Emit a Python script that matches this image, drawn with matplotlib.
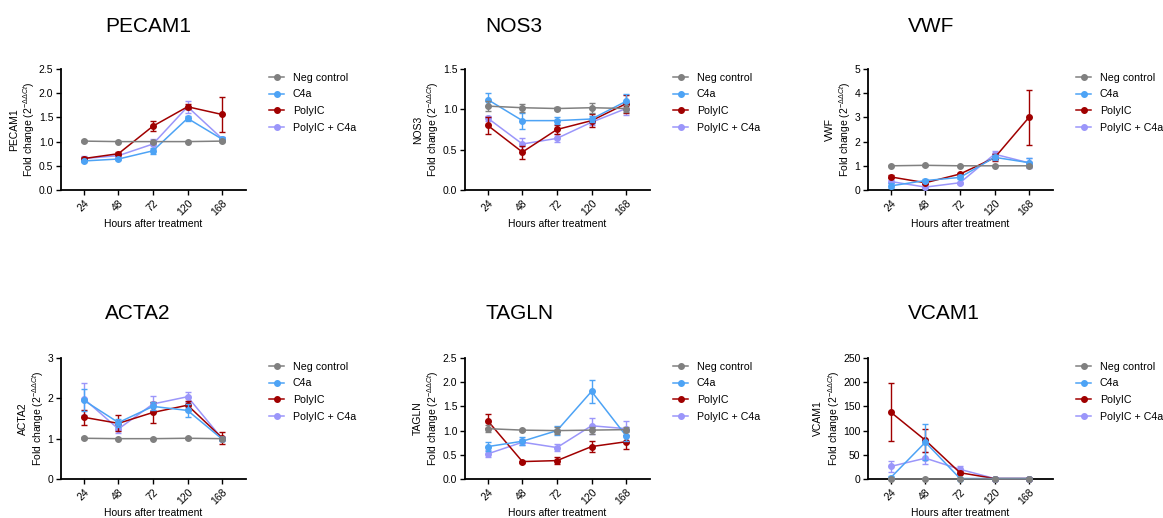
import numpy as np
import matplotlib
matplotlib.use("Agg")
import matplotlib.pyplot as plt

plt.rcParams['font.family'] = ['Liberation Sans', 'DejaVu Sans']
plt.rcParams['mathtext.fontset'] = 'custom'
plt.rcParams['mathtext.rm'] = 'Liberation Sans'
plt.rcParams['mathtext.it'] = 'Liberation Sans:italic'

hours = ['24', '48', '72', '120', '168']
groups = ['Neg control', 'C4a', 'PolyIC', 'PolyIC + C4a']
colors = ['#808080', '#4da3f5', '#a00000', '#9b96fa']

# mean values per gene, one list per group
pecam1 = [[1.01, 1.00, 1.00, 1.00, 1.01],
          [0.60, 0.64, 0.81, 1.48, 1.05],
          [0.65, 0.75, 1.32, 1.72, 1.56],
          [0.65, 0.71, 0.95, 1.72, 1.06]]
pecam1_err = [[0.02, 0.01, 0.02, 0.01, 0.02],
              [0.03, 0.03, 0.06, 0.05, 0.04],
              [0.03, 0.03, 0.10, 0.05, 0.37],
              [0.06, 0.03, 0.10, 0.12, 0.03]]

nos3 = [[1.04, 1.02, 1.01, 1.02, 1.01],
        [1.12, 0.86, 0.86, 0.88, 1.10],
        [0.80, 0.47, 0.75, 0.86, 1.07],
        [0.89, 0.57, 0.64, 0.84, 1.01]]
nos3_err = [[0.06, 0.05, 0.02, 0.06, 0.04],
            [0.08, 0.10, 0.04, 0.04, 0.09],
            [0.11, 0.08, 0.05, 0.08, 0.11],
            [0.03, 0.08, 0.05, 0.04, 0.08]]

vwf = [[1.00, 1.02, 1.00, 1.00, 1.00],
       [0.17, 0.39, 0.52, 1.35, 1.13],
       [0.54, 0.30, 0.66, 1.33, 3.01],
       [0.35, 0.12, 0.30, 1.48, 1.12]]
vwf_err = [[0.02, 0.02, 0.02, 0.02, 0.02],
           [0.10, 0.05, 0.08, 0.10, 0.18],
           [0.06, 0.05, 0.06, 0.15, 1.14],
           [0.06, 0.04, 0.05, 0.15, 0.20]]

acta2 = [[1.01, 1.00, 1.00, 1.01, 1.00],
         [1.95, 1.40, 1.80, 1.70, 0.99],
         [1.53, 1.38, 1.65, 1.83, 1.02],
         [1.99, 1.24, 1.86, 2.04, 1.00]]
acta2_err = [[0.02, 0.02, 0.02, 0.03, 0.02],
             [0.27, 0.10, 0.10, 0.17, 0.05],
             [0.18, 0.20, 0.26, 0.10, 0.14],
             [0.40, 0.10, 0.20, 0.12, 0.03]]

tagln = [[1.04, 1.01, 1.00, 1.01, 1.02],
         [0.67, 0.78, 1.00, 1.81, 0.89],
         [1.20, 0.36, 0.38, 0.67, 0.77],
         [0.52, 0.76, 0.65, 1.10, 1.04]]
tagln_err = [[0.07, 0.02, 0.07, 0.07, 0.05],
             [0.10, 0.08, 0.10, 0.24, 0.10],
             [0.15, 0.02, 0.08, 0.11, 0.14],
             [0.07, 0.06, 0.08, 0.17, 0.15]]

vcam1 = [[1, 1, 1, 1, 1],
         [3, 76, 1, 1, 1],
         [138, 80, 13, 1, 1],
         [26, 43, 20, 1, 1]]
vcam1_err = [[0.5, 0.5, 0.5, 0.2, 0.2],
             [3, 37, 0.5, 0.2, 0.2],
             [60, 24, 3, 0.5, 0.2],
             [12, 12, 6, 0.5, 0.2]]

genes = ['PECAM1', 'NOS3', 'VWF', 'ACTA2', 'TAGLN', 'VCAM1']
means = [pecam1, nos3, vwf, acta2, tagln, vcam1]
errs = [pecam1_err, nos3_err, vwf_err, acta2_err, tagln_err, vcam1_err]
ymax = [2.5, 1.5, 5, 3, 2.5, 250]
ystep = [0.5, 0.5, 1, 1, 0.5, 50]
yfmt = ['%.1f', '%.1f', '%d', '%d', '%.1f', '%d']

W, H = 1163, 518
fig = plt.figure(figsize=(W / 100, H / 100), dpi=100)

lefts = [61, 465, 868]
tops = [69, 358]
aw, ah = 185, 121
title_x = [105, 485, 908]
title_base = [32, 319]

x = np.arange(len(hours))
for i, gene in enumerate(genes):
    r, c = divmod(i, 3)
    ax = fig.add_axes([lefts[c] / W, 1 - (tops[r] + ah) / H, aw / W, ah / H])
    handles = []
    for g in range(len(groups)):
        h = ax.errorbar(x, means[i][g], yerr=errs[i][g], color=colors[g],
                        marker='o', markersize=4, linewidth=1.1,
                        elinewidth=1.0, capsize=2.5, capthick=1.0,
                        zorder=10 - g, clip_on=False)
        handles.append(h)
    ax.set_xlim(-0.66, 4.69)
    ax.set_ylim(0, ymax[i])
    ax.set_yticks(np.arange(0, ymax[i] + ystep[i] / 2, ystep[i]))
    ax.yaxis.set_major_formatter(matplotlib.ticker.FormatStrFormatter(yfmt[i]))
    ax.set_xticks(x)
    ax.set_xticklabels(hours, rotation=45, ha='right', rotation_mode='anchor')
    ax.tick_params(labelsize=7.5, width=1.0, length=3.5, pad=2, color='black')
    for s in ['top', 'right']:
        ax.spines[s].set_visible(False)
    for s in ['left', 'bottom']:
        ax.spines[s].set_linewidth(1.3)
    ax.set_xlabel('Hours after treatment', fontsize=7.5, labelpad=1.5)
    ax.set_ylabel(gene + '\nFold change (2$^{-\\Delta\\Delta Ct}$)', fontsize=7.5,
                  labelpad=1)
    fig.text(title_x[c] / W, 1 - title_base[r] / H, gene, fontsize=15,
             ha='left', va='baseline')
    ax.legend([hh[0] for hh in handles], groups, loc='upper left',
              bbox_to_anchor=(1.085, 1.03), frameon=False, fontsize=7.7,
              handlelength=1.4, handletextpad=0.8, labelspacing=0.62,
              borderaxespad=0.3)

fig.savefig('out.png', dpi=100)
